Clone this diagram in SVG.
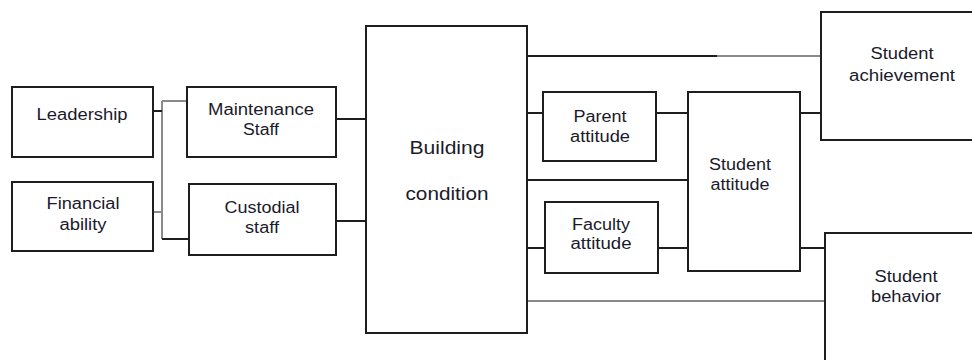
<svg xmlns="http://www.w3.org/2000/svg" width="972" height="360" viewBox="0 0 972 360">
<style>
.box{fill:#fff;stroke:#1e1e1e;stroke-width:2}
.ln{stroke:#1e1e1e;stroke-width:2;fill:none}
.gr{stroke:#8a8a8a;stroke-width:2;fill:none}
text{font-family:"Liberation Sans",Arial,sans-serif;font-size:16px;fill:#1a1a2a;text-anchor:middle}
.big{font-size:19px}
</style>
<rect width="972" height="360" fill="#fff"/>
<g id="connectors">
<line class="gr" x1="162" y1="101" x2="162" y2="239"/>
<line class="gr" x1="162" y1="101" x2="187" y2="101"/>
<line class="ln" x1="153" y1="111" x2="162" y2="111"/>
<line class="gr" x1="153" y1="212" x2="162" y2="212"/>
<line class="ln" x1="162" y1="239" x2="189" y2="239"/>
<line class="ln" x1="336" y1="119" x2="366" y2="119"/>
<line class="ln" x1="336" y1="221" x2="366" y2="221"/>
<line class="ln" x1="527" y1="56" x2="717" y2="56"/>
<line class="gr" x1="717" y1="56" x2="821" y2="56"/>
<line class="ln" x1="527" y1="113" x2="543" y2="113"/>
<line class="ln" x1="656" y1="113" x2="688" y2="113"/>
<line class="ln" x1="527" y1="180" x2="688" y2="180"/>
<line class="ln" x1="527" y1="248" x2="545" y2="248"/>
<line class="ln" x1="658" y1="248" x2="688" y2="248"/>
<line class="gr" x1="527" y1="301" x2="825" y2="301"/>
<line class="ln" x1="800" y1="113" x2="824" y2="113"/>
<line class="ln" x1="800" y1="248" x2="825" y2="248"/>
</g>
<g id="leadership">
<rect class="box" x="12" y="87" width="141" height="70"/>
<text x="82" y="120" textLength="91" lengthAdjust="spacingAndGlyphs">Leadership</text>
</g>
<g id="financial">
<rect class="box" x="12" y="182" width="141" height="69"/>
<text x="83" y="209" textLength="73" lengthAdjust="spacingAndGlyphs">Financial</text>
<text x="83" y="230" textLength="47" lengthAdjust="spacingAndGlyphs">ability</text>
</g>
<g id="maintenance">
<rect class="box" x="187" y="87" width="149" height="70"/>
<text x="261" y="115" textLength="106" lengthAdjust="spacingAndGlyphs">Maintenance</text>
<text x="261" y="135" textLength="36" lengthAdjust="spacingAndGlyphs">Staff</text>
</g>
<g id="custodial">
<rect class="box" x="189" y="184" width="147" height="71"/>
<text x="262" y="213" textLength="75" lengthAdjust="spacingAndGlyphs">Custodial</text>
<text x="262" y="233" textLength="34" lengthAdjust="spacingAndGlyphs">staff</text>
</g>
<g id="building">
<rect class="box" x="366" y="26" width="161" height="307"/>
<text class="big" x="447" y="154" textLength="75" lengthAdjust="spacingAndGlyphs">Building</text>
<text class="big" x="447" y="200" textLength="83" lengthAdjust="spacingAndGlyphs">condition</text>
</g>
<g id="parent">
<rect class="box" x="543" y="92" width="113" height="69"/>
<text x="600" y="122" textLength="53" lengthAdjust="spacingAndGlyphs">Parent</text>
<text x="600" y="142" textLength="60" lengthAdjust="spacingAndGlyphs">attitude</text>
</g>
<g id="faculty">
<rect class="box" x="545" y="202" width="113" height="71"/>
<text x="601" y="230" textLength="58" lengthAdjust="spacingAndGlyphs">Faculty</text>
<text x="601" y="249" textLength="61" lengthAdjust="spacingAndGlyphs">attitude</text>
</g>
<g id="student-attitude">
<rect class="box" x="688" y="92" width="112" height="179"/>
<text x="740" y="170" textLength="62" lengthAdjust="spacingAndGlyphs">Student</text>
<text x="740" y="190" textLength="59" lengthAdjust="spacingAndGlyphs">attitude</text>
</g>
<g id="achievement">
<rect class="box" x="821" y="12" width="160" height="128"/>
<text x="902" y="59" textLength="63" lengthAdjust="spacingAndGlyphs">Student</text>
<text x="902" y="81" textLength="106" lengthAdjust="spacingAndGlyphs">achievement</text>
</g>
<g id="behavior">
<rect class="box" x="825" y="233" width="160" height="140"/>
<text x="906" y="282" textLength="63" lengthAdjust="spacingAndGlyphs">Student</text>
<text x="906" y="302" textLength="70" lengthAdjust="spacingAndGlyphs">behavior</text>
</g>
</svg>
